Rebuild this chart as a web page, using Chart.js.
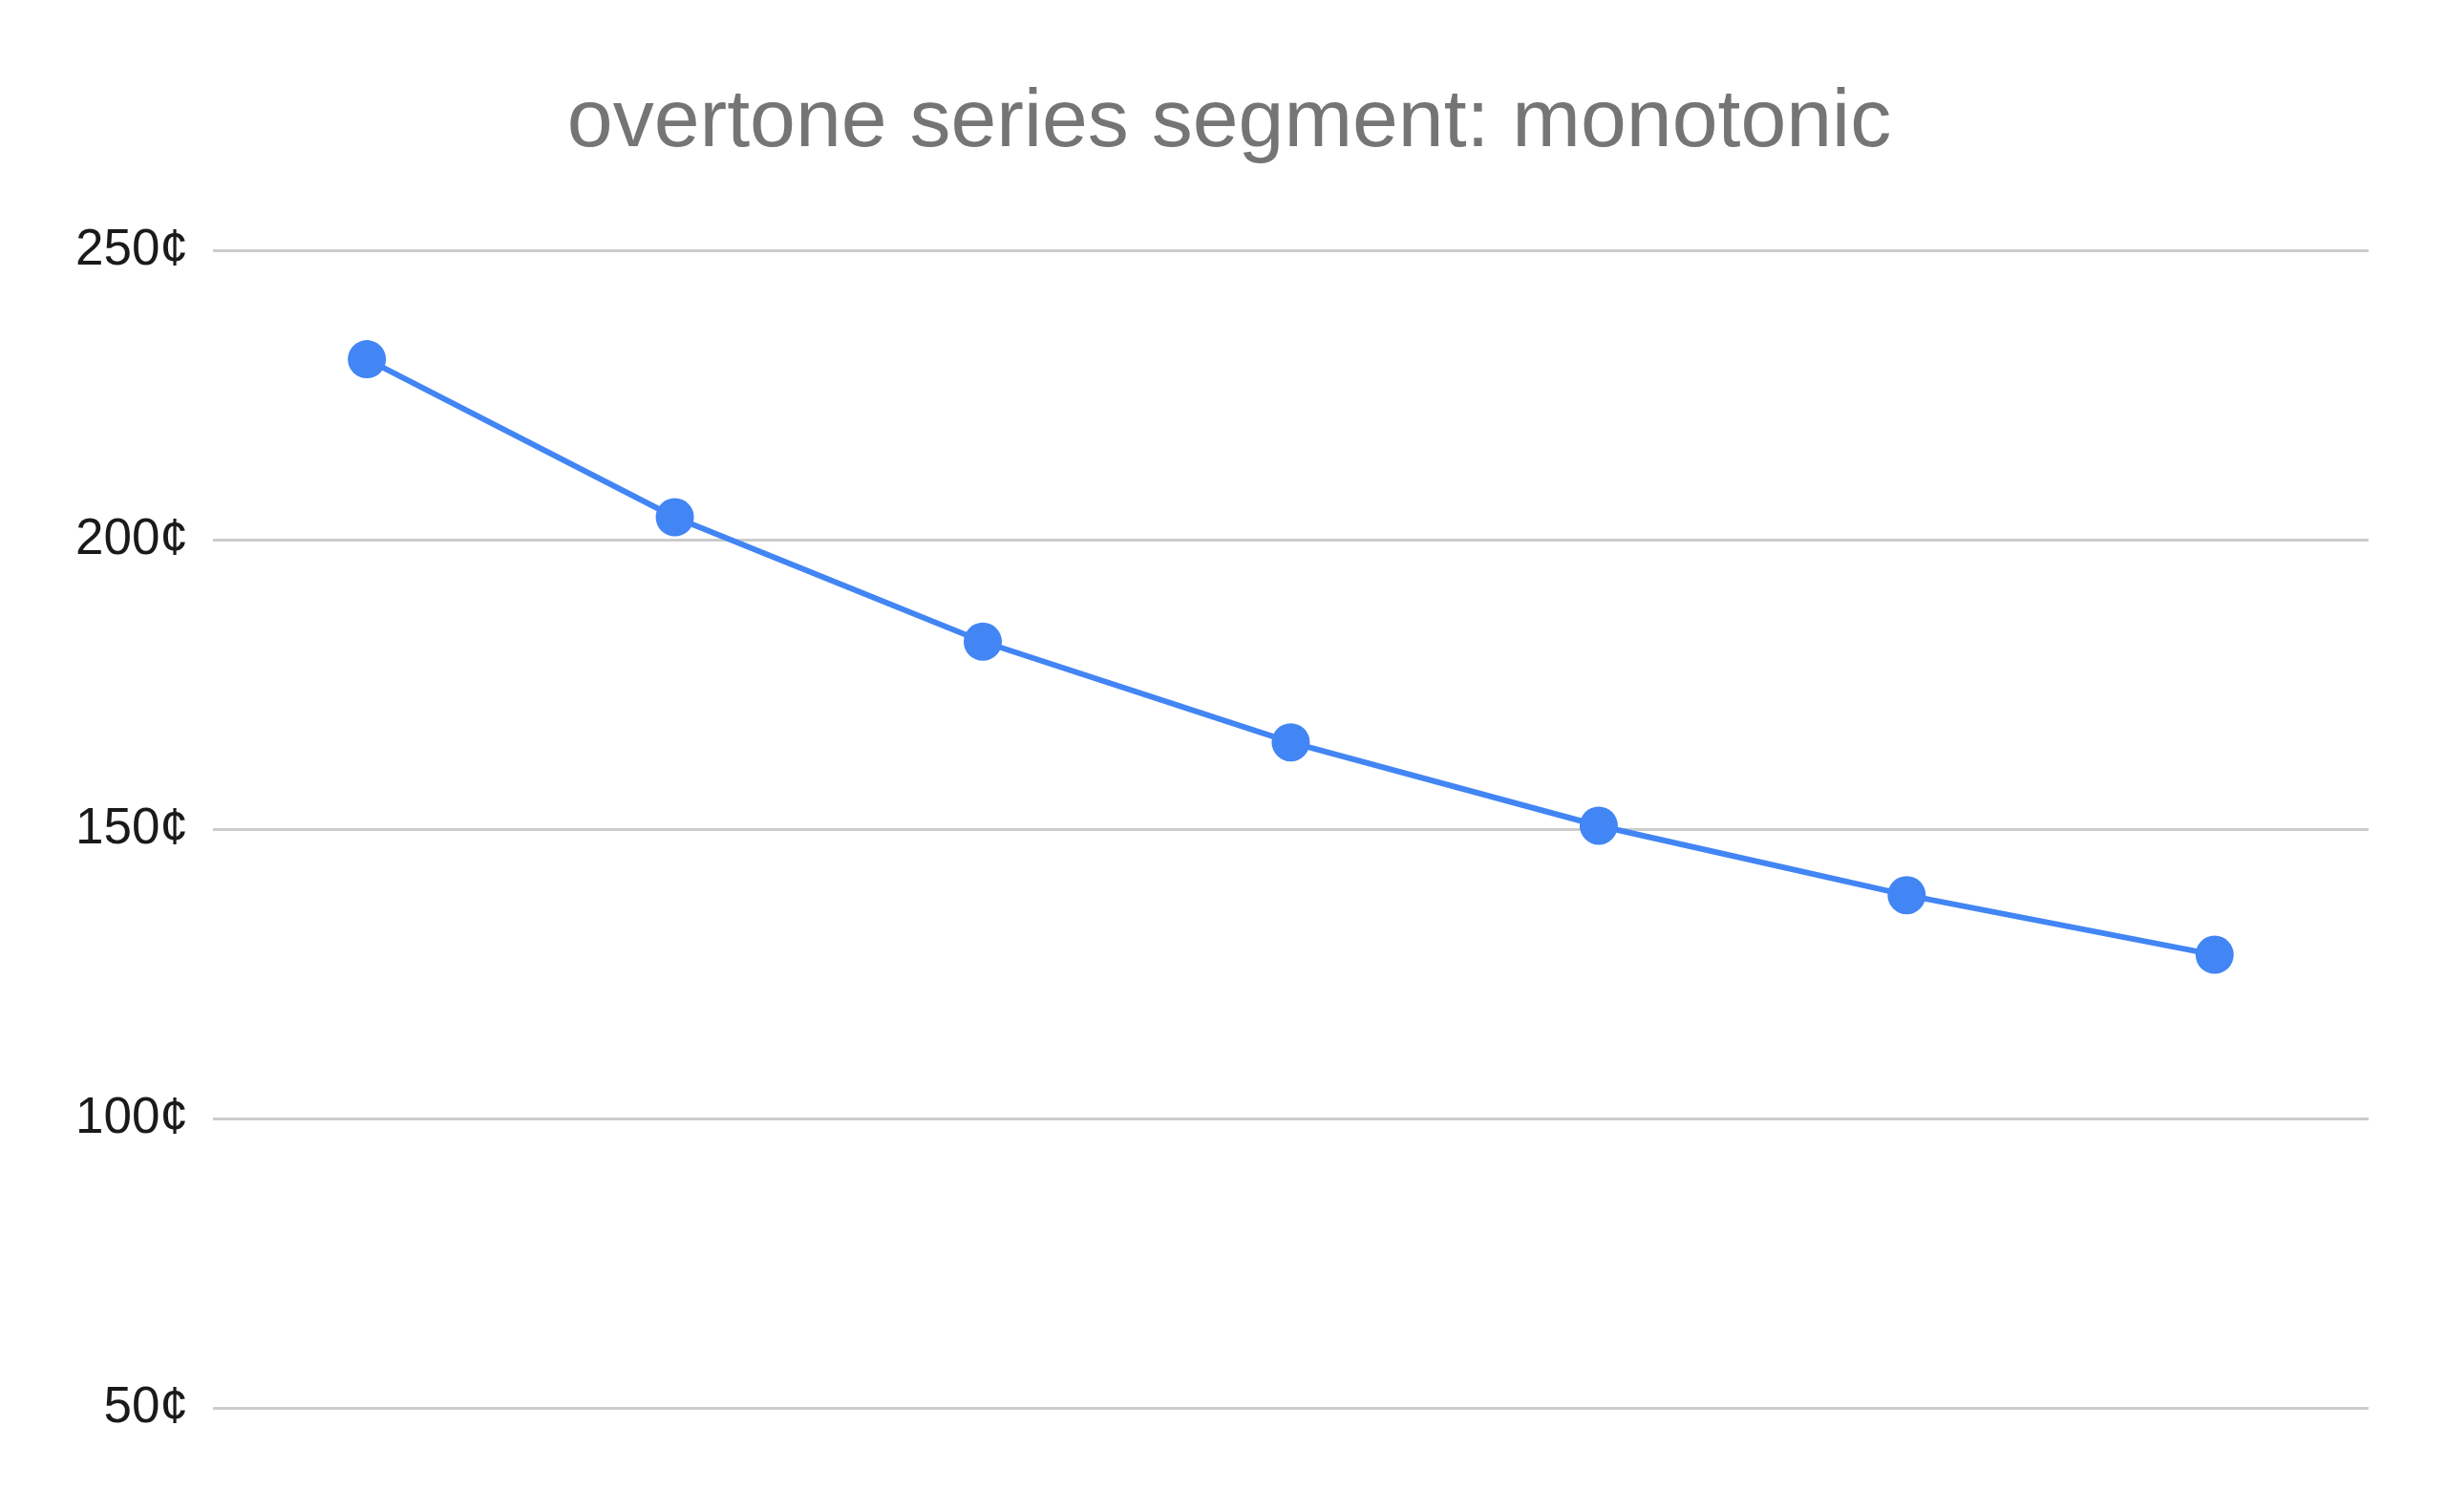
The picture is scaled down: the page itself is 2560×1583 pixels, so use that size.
<!DOCTYPE html>
<html>
<head>
<meta charset="utf-8">
<script src="https://cdn.jsdelivr.net/npm/chart.js@4/dist/chart.umd.min.js"></script>
<style>
  html, body { margin: 0; padding: 0; background: #fff; }
  #wrap { width: 2560px; height: 1583px; position: relative; }
</style>
</head>
<body>
<div id="wrap"><canvas id="chart"></canvas></div>
<script>
// interval sizes between neighbouring harmonics, in cents
const intervals = ["8:7", "9:8", "10:9", "11:10", "12:11", "13:12", "14:13"];
const cents = [231.2, 203.9, 182.4, 165.0, 150.6, 138.6, 128.3];
const yTicks = [50, 100, 150, 200, 250];

const lineBlue = "#4285f4";

const ctx = document.getElementById("chart").getContext("2d");
const chartSetup = {
  type: "line",
  data: {
    labels: intervals,
    datasets: [
      {
        label: "cents",
        data: cents,
        borderColor: lineBlue,
        backgroundColor: lineBlue,
        borderWidth: 6,
        pointRadius: 20,
        pointBorderWidth: 0,
        pointBackgroundColor: lineBlue,
        tension: 0,
      },
    ],
  },
  options: {
    responsive: true,
    maintainAspectRatio: false,
    animation: false,
    layout: {
      padding: { left: 53, right: 39, top: 0, bottom: 109 },
    },
    scales: {
      x: {
        display: false,
        offset: true,
      },
      y: {
        min: yTicks[0],
        max: yTicks[yTicks.length - 1],
        afterBuildTicks: (scale) => {
          scale.ticks = yTicks.map((v) => ({ value: v }));
        },
        border: { display: false },
        grid: {
          color: "#cccccc",
          lineWidth: 3,
          drawTicks: false,
        },
        ticks: {
          color: "#1a1a1a",
          padding: 26,
          font: { family: "'Liberation Sans', Arial, sans-serif", size: 53 },
          callback: (v) => v + "¢",
        },
      },
      // empty right-hand spacer so the title sits centred like the original
      yRight: {
        position: "right",
        border: { display: false },
        grid: { display: false },
        ticks: { display: false },
        afterFit: (scale) => {
          scale.width = 41;
        },
      },
    },
    plugins: {
      legend: { display: false },
      tooltip: { enabled: false },
      title: {
        display: true,
        text: "overtone series segment: monotonic",
        color: "#757575",
        font: { family: "'Liberation Sans', Arial, sans-serif", size: 86, weight: "normal" },
        padding: { top: 78, bottom: 81 },
      },
    },
  },
};
const myChart = new Chart(ctx, chartSetup);
</script>
</body>
</html>
